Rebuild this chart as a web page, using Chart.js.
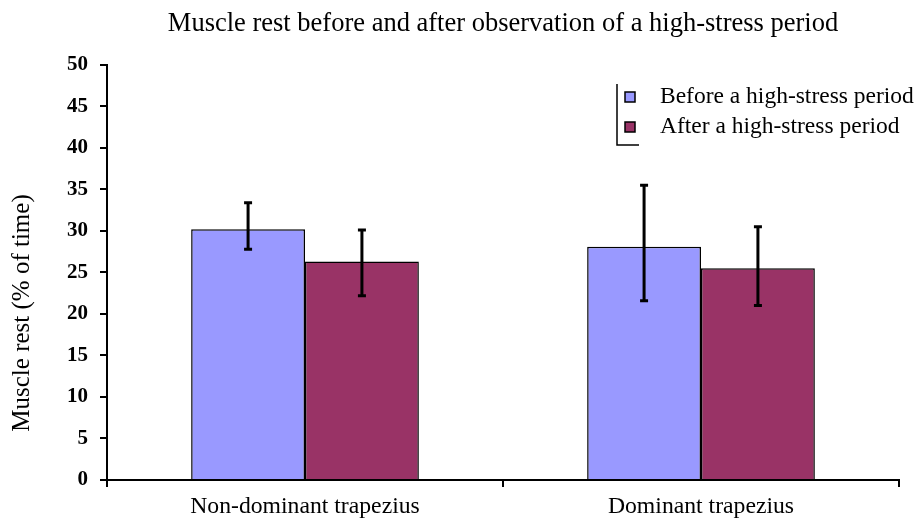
<!DOCTYPE html>
<html>
<head>
<meta charset="utf-8">
<script src="https://cdn.jsdelivr.net/npm/chart.js@4.4.1/dist/chart.umd.min.js"></script>
<style>
  html, body { margin: 0; padding: 0; background: #fff; }
  #wrap { width: 921px; height: 523px; }
</style>
</head>
<body>
<div id="wrap"><canvas id="chart" width="921" height="523"></canvas></div>
<script>
// Data
const categories = ['Non-dominant trapezius', 'Dominant trapezius'];
const seriesLabels = ['Before a high-stress period', 'After a high-stress period'];
const beforeValues = [30.2, 28.1];
const afterValues = [26.3, 25.5];
// Error bar ends (low / high)
const beforeLow = [27.8, 21.6];
const beforeHigh = [33.4, 35.5];
const afterLow = [22.2, 21.0];
const afterHigh = [30.1, 30.5];
const yTicks = [0, 5, 10, 15, 20, 25, 30, 35, 40, 45, 50];
const yTitle = 'Muscle rest (% of time)';

const SERIF = "'Liberation Serif', 'Times New Roman', serif";

// Draws the whiskers on top of every bar
const errorBars = {
    id: 'errorBars',
    afterDatasetsDraw(chart) {
        const ctx = chart.ctx;
        const y = chart.scales.y;
        chart.data.datasets.forEach((ds, i) => {
            const meta = chart.getDatasetMeta(i);
            meta.data.forEach((bar, j) => {
                const top = y.getPixelForValue(ds.errHigh[j]);
                const bottom = y.getPixelForValue(ds.errLow[j]);
                ctx.save();
                ctx.strokeStyle = '#000';
                ctx.lineWidth = 3;
                ctx.beginPath();
                ctx.moveTo(bar.x, top);
                ctx.lineTo(bar.x, bottom);
                ctx.moveTo(bar.x - 4, top);
                ctx.lineTo(bar.x + 4, top);
                ctx.moveTo(bar.x - 4, bottom);
                ctx.lineTo(bar.x + 4, bottom);
                ctx.stroke();
                ctx.restore();
            });
        });
    }
};

// Y axis title sits a bit below the axis middle in the original
const sideTitle = {
    id: 'sideTitle',
    afterDraw(chart) {
        const ctx = chart.ctx;
        ctx.save();
        ctx.translate(22, 313);
        ctx.rotate(-Math.PI / 2);
        ctx.font = '25px ' + SERIF;
        ctx.fillStyle = '#000';
        ctx.textAlign = 'center';
        ctx.textBaseline = 'middle';
        ctx.fillText(yTitle, 0, 0);
        ctx.restore();
    }
};

// Legend box in the top right, bracket on left and bottom like the original
const boxLegend = {
    id: 'boxLegend',
    afterDraw(chart) {
        const ctx = chart.ctx;
        const x0 = 617, y0 = 84;
        ctx.save();
        ctx.strokeStyle = '#000';
        ctx.lineWidth = 1.5;
        ctx.beginPath();
        ctx.moveTo(x0, y0);
        ctx.lineTo(x0, 145);
        ctx.lineTo(x0 + 22, 145);
        ctx.stroke();
        ctx.font = '23.5px ' + SERIF;
        ctx.textBaseline = 'middle';
        chart.data.datasets.forEach((ds, i) => {
            const cy = 97 + i * 30;
            ctx.fillStyle = ds.backgroundColor;
            ctx.fillRect(625, cy - 5, 10, 10);
            ctx.lineWidth = 1.5;
            ctx.strokeRect(625, cy - 5, 10, 10);
            ctx.fillStyle = '#000';
            ctx.fillText(ds.label, 660, cy);
        });
        ctx.restore();
    }
};

new Chart(document.getElementById('chart'), {
    type: 'bar',
    data: {
        labels: categories,
        datasets: [
            {
                label: seriesLabels[0],
                data: beforeValues,
                errLow: beforeLow,
                errHigh: beforeHigh,
                backgroundColor: '#9999FF',
                borderColor: '#000',
                borderWidth: 1.5,
                borderSkipped: 'bottom'
            },
            {
                label: seriesLabels[1],
                data: afterValues,
                errLow: afterLow,
                errHigh: afterHigh,
                backgroundColor: '#993366',
                borderColor: '#000',
                borderWidth: 1.5,
                borderSkipped: 'bottom'
            }
        ]
    },
    options: {
        responsive: false,
        animation: false,
        layout: { padding: { left: 0, right: 22, top: 0, bottom: 0 } },
        datasets: { bar: { categoryPercentage: 0.575, barPercentage: 1.0 } },
        plugins: {
            legend: { display: false },
            tooltip: { enabled: false },
            title: {
                display: true,
                fullSize: false,
                text: 'Muscle rest before and after observation of a high-stress period',
                color: '#000',
                font: { family: SERIF, size: 26.5, weight: 'normal' },
                padding: { top: 8, bottom: 25 }
            }
        },
        scales: {
            x: {
                afterFit(scale) { scale.height = 43; },
                grid: { drawOnChartArea: false, drawTicks: true, tickLength: 7, color: '#000', lineWidth: 2 },
                border: { display: true, color: '#000', width: 2 },
                ticks: { color: '#000', padding: 6, font: { family: SERIF, size: 23.7 } }
            },
            y: {
                min: 0,
                max: 50,
                afterBuildTicks(scale) { scale.ticks = yTicks.map(v => ({ value: v })); },
                afterFit(scale) { scale.width = 107; },
                grid: { drawOnChartArea: false, drawTicks: true, tickLength: 7, color: '#000', lineWidth: 2 },
                border: { display: true, color: '#000', width: 2 },
                ticks: { color: '#000', padding: 12, font: { family: SERIF, size: 21, weight: 'bold' } }
            }
        }
    },
    plugins: [errorBars, boxLegend, sideTitle]
});
</script>
</body>
</html>
